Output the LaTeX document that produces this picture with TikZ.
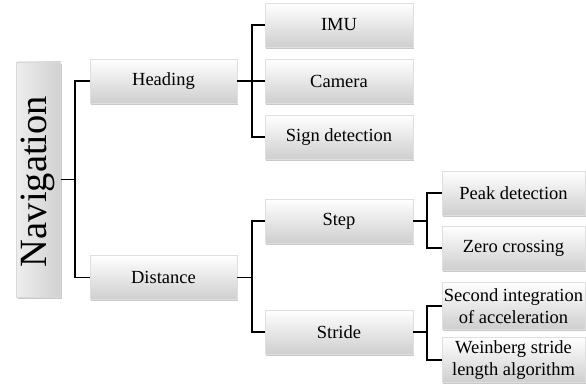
\documentclass[tikz,border=0pt]{standalone}
\usepackage{fontspec}
\setmainfont{Liberation Serif}
\usetikzlibrary{shadows}
\begin{document}
\begin{tikzpicture}[x=1pt,y=-1pt,
  box/.style={rectangle, draw=gray!25, line width=0.4pt, top color=white, bottom color=gray!38,
    drop shadow={shadow xshift=1.2pt, shadow yshift=-1.6pt, opacity=0.5, fill=gray!85},
    minimum height=44pt, inner sep=0pt, align=center,
    font=\fontsize{18.5}{21.5}\selectfont},
  colA/.style={box, minimum width=147pt},
  colB/.style={box, minimum width=148pt},
  colC/.style={box, minimum width=143pt},
  link/.style={line width=1.7pt, black}]
\useasboundingbox (0,0) rectangle (586,385);
\node[rectangle, draw=gray!30, line width=0.4pt, left color=gray!14, right color=gray!36,
  drop shadow={shadow xshift=1.2pt, shadow yshift=-1.6pt, opacity=0.5, fill=gray!85},
  minimum width=44pt, minimum height=235pt, inner sep=0pt] (nav) at (38.5,179.5) {};
\node[rotate=90, font=\fontsize{38.5}{40}\selectfont, inner sep=0pt] (navtext) at (38,181.5) {Navigation};
\node[colA] (heading) at (163.5,81) {Heading};
\node[colA] (distance) at (163.5,277.5) {Distance};
\node[colB] (imu) at (339,25) {IMU};
\node[colB] (camera) at (339,81) {Camera};
\node[colB] (sign) at (339,137) {Sign detection};
\node[colB] (step) at (339,221) {Step};
\node[colB] (stride) at (339,332) {Stride};
\node[colC] (peak) at (513.5,193) {Peak detection};
\node[colC] (zero) at (513.5,248) {Zero crossing};
\node[colC, minimum height=47pt] (second) at (513.5,306) {Second integration\\of acceleration};
\node[colC, minimum height=45pt] (weinberg) at (513.5,360) {Weinberg stride\\length algorithm};
% connectors
\draw[link] (nav.east) -- ++(14,0) |- (heading.west);
\draw[link] (nav.east) -- ++(14,0) |- (distance.west);
\draw[link] (heading.east) -- ++(15,0) |- (imu.west);
\draw[link] (heading.east) -- (camera.west);
\draw[link] (heading.east) -- ++(15,0) |- (sign.west);
\draw[link] (distance.east) -- ++(15,0) |- (step.west);
\draw[link] (distance.east) -- ++(15,0) |- (stride.west);
\draw[link] (step.east) -- ++(14,0) |- (peak.west);
\draw[link] (step.east) -- ++(14,0) |- (zero.west);
\draw[link] (stride.east) -- ++(14,0) |- (second.west);
\draw[link] (stride.east) -- ++(14,0) |- (weinberg.west);
\end{tikzpicture}
\end{document}
